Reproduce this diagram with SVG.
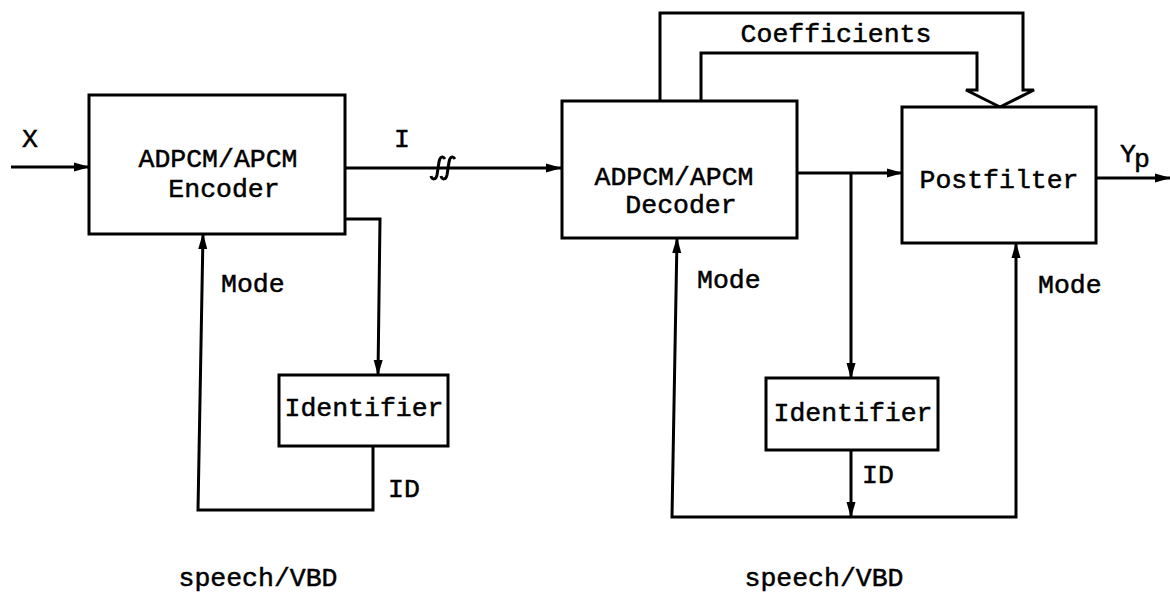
<svg xmlns="http://www.w3.org/2000/svg" width="1170" height="594" viewBox="0 0 1170 594">
<defs>
<style>
.box{fill:#fff;stroke:#000;stroke-width:3}
.ln{fill:none;stroke:#000;stroke-width:3;stroke-linejoin:miter}
.t{font-family:"Liberation Mono","DejaVu Sans Mono",monospace;font-size:26.5px;fill:#000;stroke:#000;stroke-width:0.5}
.m{text-anchor:middle}
</style>
<marker id="ah" markerUnits="userSpaceOnUse" markerWidth="16" markerHeight="10" refX="15" refY="5" orient="auto">
<path d="M0,0.5 L16,5 L0,9.5 z" fill="#000"/>
</marker>
</defs>
<rect width="1170" height="594" fill="#fff"/>
<g id="connectors">
<path class="ln" d="M11,167 L89,167" marker-end="url(#ah)"/>
<path class="ln" d="M345,168 L561,168" marker-end="url(#ah)"/>
<path class="ln" d="M431,176 C432,180 436,180 437,175 L439,162 C440,156 443,156 445,159" stroke-width="2.5"/>
<path class="ln" d="M441,176 C442,180 446,180 447,175 L449,162 C450,156 453,156 455,159" stroke-width="2.5"/>
<path class="ln" d="M345,219 L380,219 L378,375" marker-end="url(#ah)"/>
<path class="ln" d="M373,446 L373,510 L198,510 L203,234" marker-end="url(#ah)"/>
<path class="ln" d="M797,173 L902,173" marker-end="url(#ah)"/>
<path class="ln" d="M851,173 L851,378" marker-end="url(#ah)"/>
<path class="ln" d="M851,450 L851,517" marker-end="url(#ah)"/>
<path class="ln" d="M851,517 L672,517 L677,238" marker-end="url(#ah)"/>
<path class="ln" d="M851,517 L1016,517 L1016,243" marker-end="url(#ah)"/>
<path class="ln" d="M660,101 L660,13 L1023,13 L1023,90 L1034,90 L1000,107"/>
<path class="ln" d="M701,101 L701,53 L977,53 L977,90 L966,90 L1000,107"/>
<path class="ln" d="M1096,178 L1170,178" marker-end="url(#ah)"/>
</g>
<g id="encoder">
<rect class="box" x="89" y="95" width="256" height="139"/>
<text class="t m" x="218" y="167">ADPCM/APCM</text>
<text class="t m" x="224" y="197">Encoder</text>
</g>
<g id="identifier1">
<rect class="box" x="279" y="375" width="169" height="71"/>
<text class="t m" x="364" y="416">Identifier</text>
</g>
<g id="decoder">
<rect class="box" x="562" y="101" width="235" height="137"/>
<text class="t m" x="674" y="185">ADPCM/APCM</text>
<text class="t m" x="681" y="213">Decoder</text>
</g>
<g id="postfilter">
<rect class="box" x="902" y="107" width="194" height="136"/>
<text class="t m" x="999" y="188">Postfilter</text>
</g>
<g id="identifier2">
<rect class="box" x="766" y="378" width="172" height="72"/>
<text class="t m" x="853" y="421">Identifier</text>
</g>
<g id="labels">
<text class="t m" x="30" y="147">X</text>
<text class="t m" x="402" y="147">I</text>
<text class="t m" x="836" y="42">Coefficients</text>
<text class="t" x="1120" y="162">Y</text>
<text class="t" x="1134" y="167" font-size="22">p</text>
<text class="t" x="221" y="292">Mode</text>
<text class="t" x="697" y="288">Mode</text>
<text class="t" x="1038" y="293">Mode</text>
<text class="t" x="388" y="497">ID</text>
<text class="t" x="862" y="483">ID</text>
<text class="t m" x="258" y="586">speech/VBD</text>
<text class="t m" x="824" y="586">speech/VBD</text>
</g>
</svg>
